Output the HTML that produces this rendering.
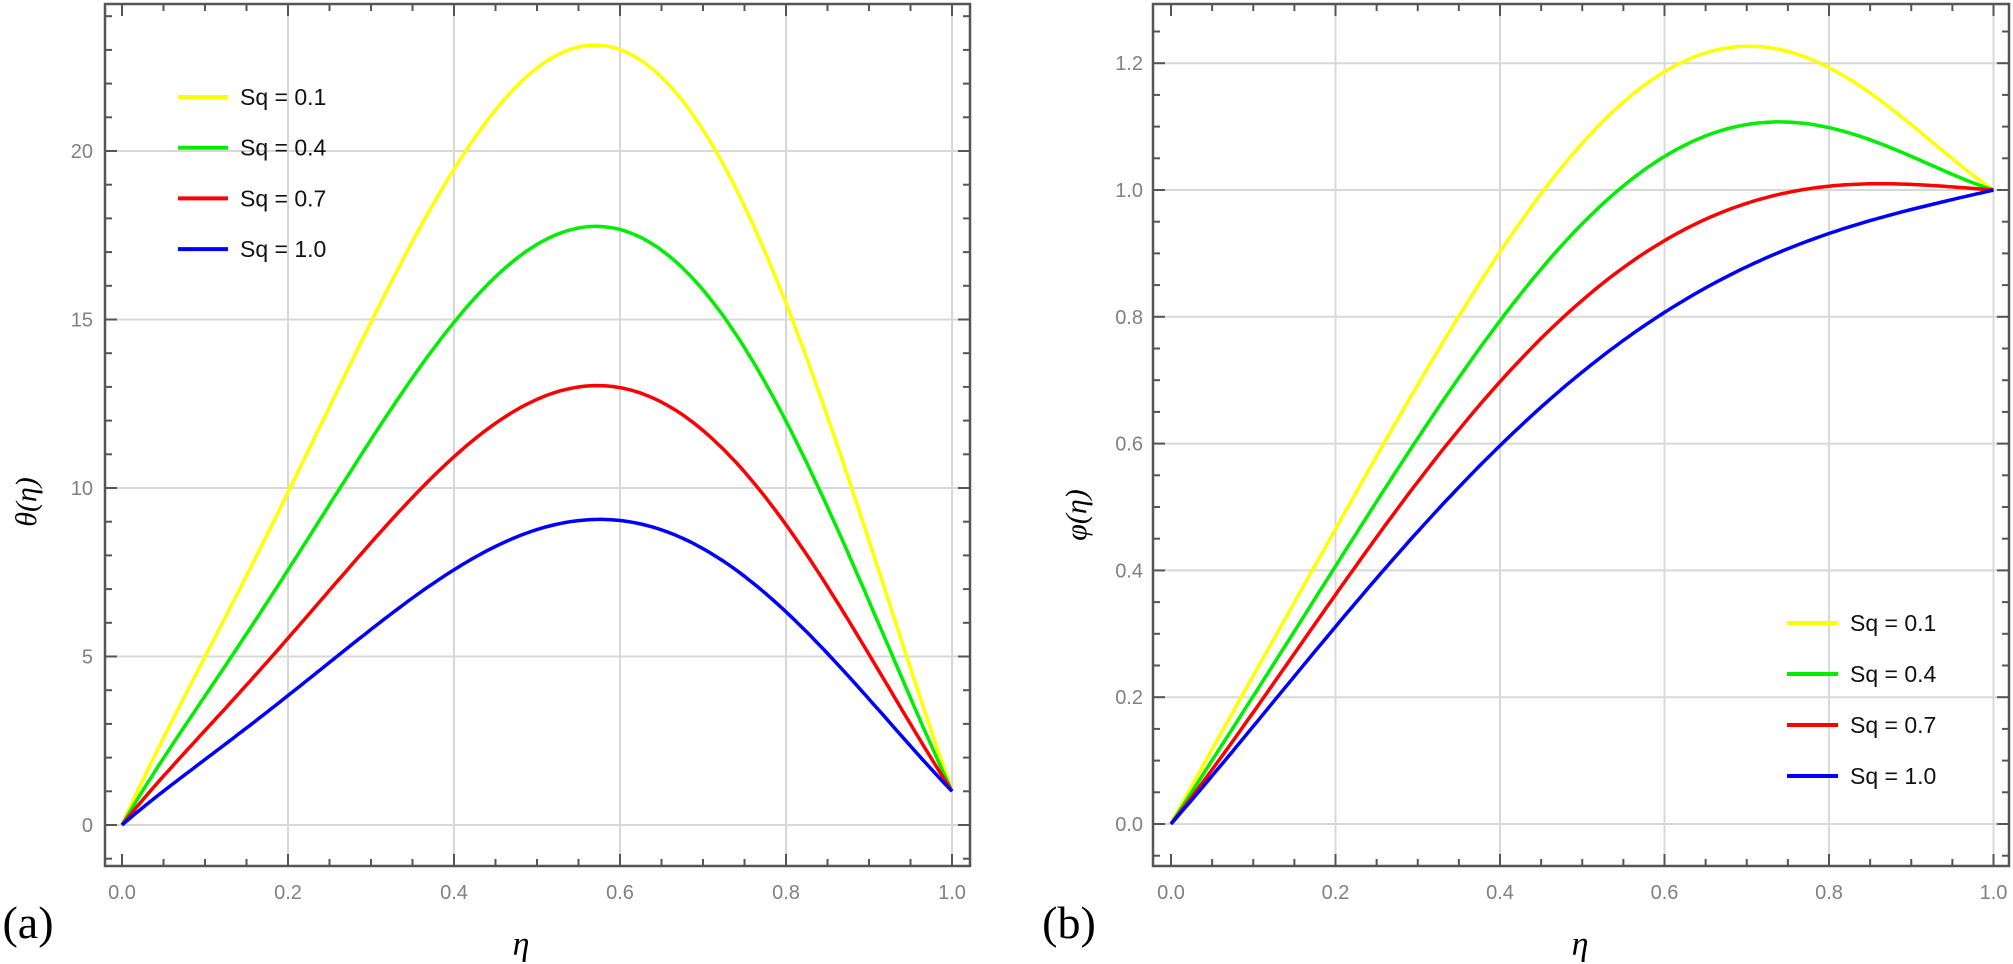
<!DOCTYPE html>
<html><head><meta charset="utf-8"><style>
html,body{margin:0;padding:0;background:#fff;}
svg{display:block;}
text{font-family:"Liberation Sans",sans-serif;}
</style></head><body>
<svg id="s" width="2013" height="964" viewBox="0 0 2013 964" xmlns="http://www.w3.org/2000/svg">
<g id="g"></g>
<text x="28" y="938" font-size="46" text-anchor="middle" style="font-family:'Liberation Serif',serif">(a)</text>
<text x="1069" y="938" font-size="46" text-anchor="middle" style="font-family:'Liberation Serif',serif">(b)</text>
<text x="521" y="955" font-size="34" font-style="italic" text-anchor="middle" style="font-family:'Liberation Serif',serif">η</text>
<text x="1580" y="955" font-size="34" font-style="italic" text-anchor="middle" style="font-family:'Liberation Serif',serif">η</text>
<text transform="translate(36,502) rotate(-90)" font-size="30" font-style="italic" text-anchor="middle" style="font-family:'Liberation Serif',serif">θ(η)</text>
<text transform="translate(1086,515) rotate(-90)" font-size="30" font-style="italic" text-anchor="middle" style="font-family:'Liberation Serif',serif">φ(η)</text>
</svg>
<script>
var NS="http://www.w3.org/2000/svg",G=document.getElementById("g");
function el(t,a,txt){var e=document.createElementNS(NS,t);for(var k in a)e.setAttribute(k,a[k]);if(txt!==undefined)e.textContent=txt;G.appendChild(e);return e;}
function ln(x1,y1,x2,y2,c,w){el("line",{x1:x1,y1:y1,x2:x2,y2:y2,stroke:c,"stroke-width":w});}
// least squares polynomial fit
function fit(xs,ys,deg){var n=deg+1,A=[],b=[];for(var i=0;i<n;i++){A.push(new Array(n).fill(0));b.push(0);}
 for(var k=0;k<xs.length;k++){var w=(k==0||k==xs.length-1)?50:1;for(var i=0;i<n;i++){b[i]+=w*ys[k]*Math.pow(xs[k],i);for(var j=0;j<n;j++)A[i][j]+=w*Math.pow(xs[k],i+j);}}
 for(var i=0;i<n;i++){var p=i;for(var r=i+1;r<n;r++)if(Math.abs(A[r][i])>Math.abs(A[p][i]))p=r;var t=A[i];A[i]=A[p];A[p]=t;t=b[i];b[i]=b[p];b[p]=t;
  for(var r=0;r<n;r++)if(r!=i){var f=A[r][i]/A[i][i];for(var j=i;j<n;j++)A[r][j]-=f*A[i][j];b[r]-=f*b[i];}}
 var c=b.map(function(v,i){return v/A[i][i];});return function(x){var s=0;for(var i=n-1;i>=0;i--)s=s*x+c[i];return s;};}
function curve(f,X,Y){var d="";for(var i=0;i<=200;i++){var x=i/200;d+=(i?"L":"M")+X(x).toFixed(1)+","+Y(f(x)).toFixed(1);}return d;}
var cols=["#ffff00","#00ee00","#ff0000","#0000ff"];
var lab=["Sq = 0.1","Sq = 0.4","Sq = 0.7","Sq = 1.0"];
// ---------- Plot A ----------
(function(){
 var L=105,R=970,T=4,B=866,X=function(x){return 122+830*x;},Y=function(v){return 825-33.7*v;};
 for(var i=1;i<=5;i++){ln(X(i*0.2),T,X(i*0.2),B,"#d8d8d8",2);}
 for(var v=0;v<=20;v+=5){ln(L,Y(v),R,Y(v),"#d8d8d8",2);}
 for(var k=0;k<=20;k++){var x=X(k*0.05),maj=k%4==0;ln(x,B,x,B-(maj?12:7),"#555",2);ln(x,T,x,T+(maj?12:7),"#555",2);}
 for(var v=-1;v<=24;v++){var y=Y(v),maj=v%5==0;ln(L,y,L+(maj?12:7),y,"#555",2);ln(R,y,R-(maj?12:7),y,"#555",2);}
 el("rect",{x:L,y:T,width:R-L,height:B-T,fill:"none",stroke:"#555","stroke-width":2.5});
 for(var i=0;i<=5;i++)el("text",{x:X(i*0.2),y:899,"font-size":20,fill:"#808080","text-anchor":"middle"},(i*0.2).toFixed(1));
 for(var v=0;v<=20;v+=5)el("text",{x:93,y:Y(v)+7,"font-size":20,fill:"#808080","text-anchor":"end"},v);
 var hx=[0,0.1,0.2,0.3,0.4,0.5,0.575,0.65,0.7,0.8,0.887,1],hy=[0,0.215,0.435,0.65,0.85,0.975,1,0.965,0.9,0.634,0.39,0];
 var h=fit(hx,hy,6);
 var P=[22.45,17.1,12.4,8.45];
 for(var c=0;c<4;c++){(function(p){el("path",{d:curve(function(x){return x+p*h(x);},X,Y),fill:"none",stroke:cols[c],"stroke-width":3.5,"stroke-linejoin":"round"});})(P[c]);}
 for(var c=0;c<4;c++){var y=97+50.7*c;ln(178,y,228,y,cols[c],4);el("text",{x:240,y:y+8,"font-size":23,fill:"#111"},lab[c]);}
})();
// ---------- Plot B ----------
(function(){
 var L=1153,R=2009,T=4,B=866,X=function(x){return 1171+822.5*x;},Y=function(v){return 824-634*v;};
 for(var i=1;i<=5;i++){ln(X(i*0.2),T,X(i*0.2),B,"#d8d8d8",2);}
 for(var i=0;i<=6;i++){ln(L,Y(i*0.2),R,Y(i*0.2),"#d8d8d8",2);}
 for(var k=0;k<=20;k++){var x=X(k*0.05),maj=k%4==0;ln(x,B,x,B-(maj?12:7),"#555",2);ln(x,T,x,T+(maj?12:7),"#555",2);}
 for(var k=-1;k<=25;k++){var y=Y(k*0.05),maj=k%4==0;ln(L,y,L+(maj?12:7),y,"#555",2);ln(R,y,R-(maj?12:7),y,"#555",2);}
 el("rect",{x:L,y:T,width:R-L,height:B-T,fill:"none",stroke:"#555","stroke-width":2.5});
 for(var i=0;i<=5;i++)el("text",{x:X(i*0.2),y:899,"font-size":20,fill:"#808080","text-anchor":"middle"},(i*0.2).toFixed(1));
 for(var i=0;i<=6;i++)el("text",{x:1143,y:Y(i*0.2)+7,"font-size":20,fill:"#808080","text-anchor":"end"},(i*0.2).toFixed(1));
 var D=[
  [[0,0],[0.1,0.235],[0.2,0.463],[0.3,0.695],[0.4,0.903],[0.5,1.07],[0.6,1.19],[0.693,1.227],[0.8,1.19],[0.9,1.105],[1,1]],
  [[0,0],[0.1,0.205],[0.2,0.405],[0.3,0.605],[0.4,0.795],[0.5,0.95],[0.6,1.054],[0.7,1.1],[0.74,1.105],[0.8,1.1],[0.9,1.055],[1,1]],
  [[0,0],[0.1,0.18],[0.2,0.36],[0.3,0.535],[0.4,0.70],[0.5,0.83],[0.6,0.92],[0.7,0.975],[0.8,1.005],[0.85,1.012],[0.9,1.01],[1,1]],
  [[0,0],[0.1,0.157],[0.2,0.31],[0.3,0.457],[0.4,0.60],[0.5,0.715],[0.6,0.807],[0.7,0.875],[0.8,0.933],[0.9,0.97],[1,1]]];
 for(var c=0;c<4;c++){var f=fit(D[c].map(function(p){return p[0];}),D[c].map(function(p){return p[1];}),5);
  el("path",{d:curve(f,X,Y),fill:"none",stroke:cols[c],"stroke-width":3.5,"stroke-linejoin":"round"});}
 for(var c=0;c<4;c++){var y=623+51*c;ln(1787,y,1838,y,cols[c],4);el("text",{x:1850,y:y+8,"font-size":23,fill:"#111"},lab[c]);}
})();
</script>
</body></html>
